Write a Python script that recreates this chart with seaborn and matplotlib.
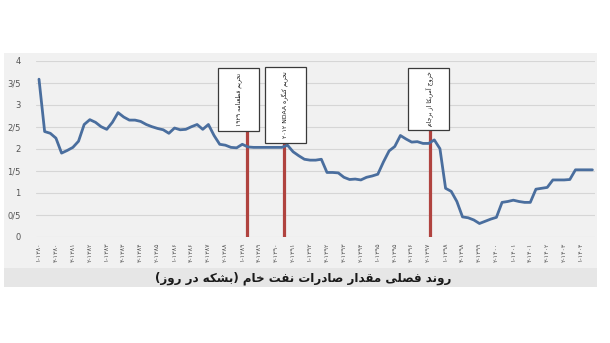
import numpy as np
import pandas as pd
import matplotlib
matplotlib.use("Agg")
import matplotlib.pyplot as plt
from matplotlib.patches import Rectangle
import seaborn as sns

# ---------------- data ----------------
export_values = [
    3.58, 2.39, 2.35, 2.24, 1.90, 1.96, 2.03, 2.17, 2.55, 2.66,
    2.60, 2.50, 2.44, 2.60, 2.82, 2.72, 2.65, 2.65, 2.62, 2.55,
    2.50, 2.46, 2.43, 2.35, 2.47, 2.43, 2.44, 2.50, 2.55, 2.44,
    2.55, 2.30, 2.10, 2.08, 2.03, 2.02, 2.10, 2.04, 2.03, 2.03,
    2.03, 2.03, 2.03, 2.03, 2.08, 1.93, 1.84, 1.76, 1.74, 1.74,
    1.76, 1.46, 1.46, 1.45, 1.35, 1.30, 1.31, 1.29, 1.35, 1.38,
    1.42, 1.70, 1.95, 2.05, 2.30, 2.22, 2.15, 2.16, 2.12, 2.12,
    2.20, 2.00, 1.10, 1.03, 0.80, 0.45, 0.43, 0.38, 0.30, 0.35,
    0.40, 0.44, 0.78, 0.80, 0.83, 0.80, 0.78, 0.78, 1.08, 1.10,
    1.12, 1.29, 1.29, 1.29, 1.30, 1.52, 1.52, 1.52, 1.52,
]
quarter_index = list(range(len(export_values)))

tick_positions = list(range(0, 99, 3))
tick_labels = [
    "۱۳۸۰-۱", "۱۳۸۰-۴", "۱۳۸۱-۳", "۱۳۸۲-۲", "۱۳۸۳-۱", "۱۳۸۳-۴", "۱۳۸۴-۳",
    "۱۳۸۵-۲", "۱۳۸۶-۱", "۱۳۸۶-۴", "۱۳۸۷-۳", "۱۳۸۸-۲", "۱۳۸۹-۱", "۱۳۸۹-۴",
    "۱۳۹۰-۳", "۱۳۹۱-۲", "۱۳۹۲-۱", "۱۳۹۲-۴", "۱۳۹۳-۳", "۱۳۹۴-۲", "۱۳۹۵-۱",
    "۱۳۹۵-۴", "۱۳۹۶-۳", "۱۳۹۷-۲", "۱۳۹۸-۱", "۱۳۹۸-۴", "۱۳۹۹-۳", "۱۴۰۰-۲",
    "۱۴۰۱-۱", "۱۴۰۱-۴", "۱۴۰۲-۳", "۱۴۰۳-۲", "۱۴۰۴-۱",
]
y_ticks = [0, 0.5, 1, 1.5, 2, 2.5, 3, 3.5, 4]
y_tick_labels = ["0", "0/5", "1", "1/5", "2", "2/5", "3", "3/5", "4"]

event_labels = ["تحریم قطعنامه ۱۹۲۹", "تحریم کنگره NDAA ۲۰۱۲", "خروج آمریکا از برجام"]
event_positions = [36.8, 43.3, 69.2]
title_text = "روند فصلی مقدار صادرات نفت خام (بشکه در روز)"

# ---------------- minimal Persian shaping ----------------
FORMS = {
    "ا": ("\uFE8D", "\uFE8E", None, None), "آ": ("\uFE81", "\uFE82", None, None),
    "ب": ("\uFE8F", "\uFE90", "\uFE91", "\uFE92"), "پ": ("\uFB56", "\uFB57", "\uFB58", "\uFB59"),
    "ت": ("\uFE95", "\uFE96", "\uFE97", "\uFE98"), "ث": ("\uFE99", "\uFE9A", "\uFE9B", "\uFE9C"),
    "ج": ("\uFE9D", "\uFE9E", "\uFE9F", "\uFEA0"), "چ": ("\uFB7A", "\uFB7B", "\uFB7C", "\uFB7D"),
    "ح": ("\uFEA1", "\uFEA2", "\uFEA3", "\uFEA4"), "خ": ("\uFEA5", "\uFEA6", "\uFEA7", "\uFEA8"),
    "د": ("\uFEA9", "\uFEAA", None, None), "ذ": ("\uFEAB", "\uFEAC", None, None),
    "ر": ("\uFEAD", "\uFEAE", None, None), "ز": ("\uFEAF", "\uFEB0", None, None),
    "ژ": ("\uFB8A", "\uFB8B", None, None),
    "س": ("\uFEB1", "\uFEB2", "\uFEB3", "\uFEB4"), "ش": ("\uFEB5", "\uFEB6", "\uFEB7", "\uFEB8"),
    "ص": ("\uFEB9", "\uFEBA", "\uFEBB", "\uFEBC"), "ض": ("\uFEBD", "\uFEBE", "\uFEBF", "\uFEC0"),
    "ط": ("\uFEC1", "\uFEC2", "\uFEC3", "\uFEC4"), "ظ": ("\uFEC5", "\uFEC6", "\uFEC7", "\uFEC8"),
    "ع": ("\uFEC9", "\uFECA", "\uFECB", "\uFECC"), "غ": ("\uFECD", "\uFECE", "\uFECF", "\uFED0"),
    "ف": ("\uFED1", "\uFED2", "\uFED3", "\uFED4"), "ق": ("\uFED5", "\uFED6", "\uFED7", "\uFED8"),
    "ک": ("\uFB8E", "\uFB8F", "\uFB90", "\uFB91"), "گ": ("\uFB92", "\uFB93", "\uFB94", "\uFB95"),
    "ل": ("\uFEDD", "\uFEDE", "\uFEDF", "\uFEE0"), "م": ("\uFEE1", "\uFEE2", "\uFEE3", "\uFEE4"),
    "ن": ("\uFEE5", "\uFEE6", "\uFEE7", "\uFEE8"), "و": ("\uFEED", "\uFEEE", None, None),
    "ه": ("\uFEE9", "\uFEEA", "\uFEEB", "\uFEEC"), "ی": ("\uFBFC", "\uFBFD", "\uFBFE", "\uFBFF"),
}


def shape(text):
    out = []
    for i, c in enumerate(text):
        if c not in FORMS:
            out.append(c)
            continue
        p = text[i - 1] if i > 0 else ""
        n = text[i + 1] if i + 1 < len(text) else ""
        prev_join = p in FORMS and FORMS[p][2] is not None
        next_join = n in FORMS and FORMS[c][2] is not None
        iso, fin, ini, med = FORMS[c]
        if prev_join and next_join:
            out.append(med)
        elif prev_join:
            out.append(fin)
        elif next_join:
            out.append(ini)
        else:
            out.append(iso)
    return "".join(out)


def is_ltr(c):
    return (c.isascii() and c.isalnum()) or ("\u06F0" <= c <= "\u06F9")


def visual(text):
    s = shape(text)
    runs = []
    for c in s:
        kind = is_ltr(c)
        if runs and runs[-1][0] == kind:
            runs[-1][1].append(c)
        else:
            runs.append([kind, [c]])
    mirror = {"(": ")", ")": "("}
    res = []
    for kind, chars in reversed(runs):
        if kind:
            res.append("".join(chars))
        else:
            res.append("".join(mirror.get(ch, ch) for ch in reversed(chars)))
    return "".join(res)


# ---------------- figure ----------------
sns.set_style("white")
plt.rcParams["font.family"] = ["DejaVu Sans"]

W, H = 610, 343
fig = plt.figure(figsize=(W / 100, H / 100), dpi=100)
fig.patch.set_facecolor("white")


def fx(px):
    return px / W


def fy(py):
    return 1 - py / H


# grey chart panel and title band
fig.patches.append(Rectangle((fx(4), fy(287)), fx(597) - fx(4), fy(53) - fy(287),
                             transform=fig.transFigure, fc="#f1f1f1", ec="none", zorder=-10))
fig.patches.append(Rectangle((fx(4), fy(287)), fx(597) - fx(4), fy(268) - fy(287),
                             transform=fig.transFigure, fc="#e6e6e6", ec="none", zorder=-9))

ax = fig.add_axes([fx(36), fy(236.7), fx(595) - fx(36), fy(60.7) - fy(236.7)])
ax.set_facecolor((1, 1, 1, 0))

df = pd.DataFrame({"q": quarter_index, "v": export_values})

# event lines and labelled boxes
box_centers = [35.3, 43.65, 69.0]
box_bottoms = [2.40, 2.14, 2.43]
box_tops = [3.83, 3.86, 3.83]
box_w = 7.3
for pos, lab, bc, bb, bt in zip(event_positions, event_labels, box_centers, box_bottoms, box_tops):
    ax.plot([pos, pos], [0, bb], color="#b0433f", lw=2.3, zorder=2, solid_capstyle="butt")
    ax.add_patch(Rectangle((bc - box_w / 2, bb), box_w, bt - bb, fc="white",
                           ec="#3a3a3a", lw=0.9, zorder=4))
    ax.text(bc, (bb + bt) / 2, visual(lab), rotation=90, ha="center", va="center",
            fontsize=4.4, color="#111111", zorder=5)

sns.lineplot(data=df, x="q", y="v", ax=ax, color="#4a6e9e", linewidth=2.0, zorder=3)

ax.set_xlim(-0.53, 98.46)
ax.set_ylim(0, 4)
ax.set_yticks(y_ticks)
ax.set_yticklabels(y_tick_labels, fontsize=6, color="#555555")
ax.set_xticks(tick_positions)
ax.set_xticklabels([visual(t) for t in tick_labels], rotation=90, fontsize=4.6, color="#555555")
ax.tick_params(axis="both", length=0)
ax.tick_params(axis="y", pad=11)
ax.tick_params(axis="x", pad=4)
ax.yaxis.grid(True, color="#d6d6d6", lw=0.8)
ax.xaxis.grid(False)
ax.set_xlabel("")
ax.set_ylabel("")
for sp in ax.spines.values():
    sp.set_visible(False)

fig.text(fx(303), fy(278), visual(title_text), ha="center", va="center",
         fontsize=8.6, fontweight="bold", color="#1a1a1a")

fig.savefig("out.png", dpi=100)
